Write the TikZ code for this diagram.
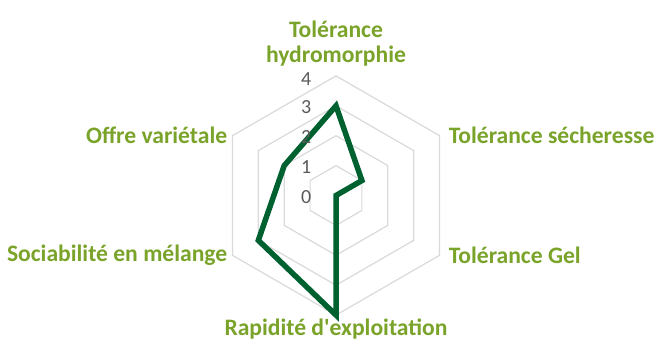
\documentclass[tikz,border=0pt]{standalone}
\usepackage{fontspec}
\setmainfont{Carlito}
\usetikzlibrary{positioning}
\definecolor{labelgreen}{RGB}{122,163,42}
\definecolor{linegreen}{RGB}{0,97,48}
\definecolor{gridgray}{RGB}{217,217,217}
\definecolor{tickgray}{RGB}{89,89,89}

\begin{document}
\begin{tikzpicture}[x=1pt, y=1pt,
    cat/.style={text=labelgreen, font=\fontsize{23.6}{25}\selectfont\bfseries, inner sep=0pt},
    tick/.style={text=tickgray, font=\fontsize{20}{20}\selectfont, inner sep=0pt, anchor=east}]
  \useasboundingbox (0,0) rectangle (659,345);
  \begin{scope}[shift={(336pt,149.5pt)}, x=29.9pt, y=29.9pt]
    % grid
    \foreach \r in {1,...,4}
      \draw[gridgray, line width=1.2pt] (90:\r) -- (30:\r) -- (-30:\r) -- (-90:\r) -- (-150:\r) -- (150:\r) -- cycle;
    \coordinate (hydro) at (90:4);
    \coordinate (seche) at (30:4);
    \coordinate (gel) at (-30:4);
    \coordinate (rapid) at (-90:4);
    \coordinate (socia) at (-150:4);
    \coordinate (offre) at (150:4);

    % data
    \draw[linegreen, line width=5.5pt, line join=miter] (90:3) -- (30:1) -- (-30:0) -- (-90:4) -- (-150:3) -- (150:2) -- cycle;

    % scale
    \node[tick] (t0) at (-0.82, -0.05) {0};
    \node[tick] (t1) at (-0.82, 0.95) {1};
    \node[tick] (t2) at (-0.82, 1.95) {2};
    \node[tick] (t3) at (-0.82, 2.95) {3};
    \node[tick] (t4) at (-0.82, 3.9) {4};
  \end{scope}

  \node[cat, align=center, above=9pt of hydro] (lhydro) {Tolérance\\hydromorphie};
  \node[cat, right=9pt of seche] (lseche) {Tolérance sécheresse};
  \node[cat, right=9pt of gel] (lgel) {Tolérance Gel};
  \node[cat, below=4pt of rapid] (lrapid) {Rapidité d\textquotesingle exploitation};
  \node[cat, left=5pt of socia] (lsocia) {Sociabilité en mélange};
  \node[cat, left=5pt of offre] (loffre) {Offre variétale};
\end{tikzpicture}
\end{document}
